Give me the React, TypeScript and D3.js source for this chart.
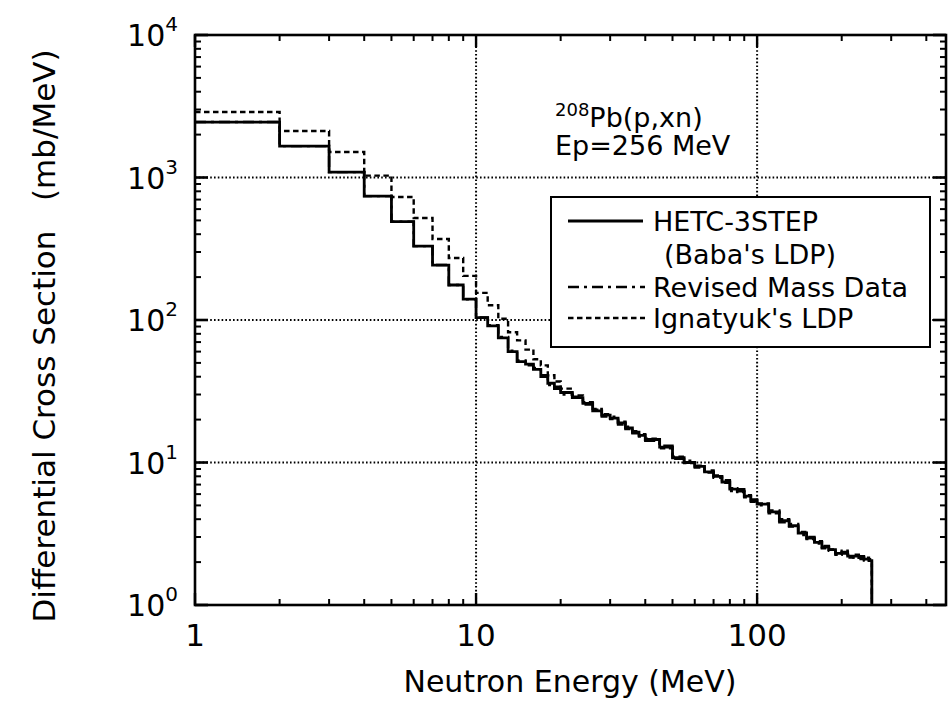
import React from 'react';
import * as d3 from 'd3';

// Energy bin edges (MeV) of the neutron spectra
const binEdges = [
  1, 2, 3, 4, 5, 6, 7, 8, 9, 10, 11, 12, 13, 14, 15, 16, 17, 18, 19, 20,
  22, 24, 26, 28, 30, 32, 34, 36, 38, 40, 45, 50, 55, 60, 65, 70, 75, 80, 85, 90, 95, 100,
  110, 120, 130, 140, 150, 160, 170, 180, 190, 200, 210, 220, 230, 240, 250, 256,
];

// Differential cross sections (mb/MeV), one value per bin
const hetcValues = [
  2450, 1660, 1090, 740, 490, 330, 243, 176, 140, 104, 91, 75, 60, 51, 49, 45, 40, 36, 33,
  31, 28.5, 26, 23, 21.5, 20.5, 19, 17.5, 16.3, 15.5, 14.5, 12.8, 10.8, 10.0, 9.4, 8.6, 8.0, 7.3, 6.5, 6.3, 5.8, 5.4,
  5.1, 4.5, 3.9, 3.6, 3.2, 2.95, 2.75, 2.55, 2.45, 2.3, 2.35, 2.2, 2.2, 2.15, 2.1, 2.05,
];
const revisedValues = [
  2450, 1660, 1090, 740, 490, 330, 243, 176, 140, 104, 92, 76, 61, 52, 48, 46, 41, 35, 34,
  30, 29, 25.5, 23.5, 21, 21, 18.5, 17.8, 16, 15.8, 14.2, 13.1, 10.6, 10.3, 9.2, 8.8, 7.8, 7.5, 6.3, 6.5, 5.7, 5.5,
  5.0, 4.6, 3.8, 3.7, 3.1, 3.0, 2.7, 2.6, 2.4, 2.35, 2.3, 2.25, 2.15, 2.2, 2.05, 2.1,
];
const ignatyukValues = [
  2880, 2120, 1510, 1030, 730, 520, 370, 272, 204, 155, 127, 102, 82, 72, 62, 53, 48, 41, 37,
  33, 29.5, 26.5, 23.8, 21.8, 20.2, 19.3, 17.2, 16.6, 15.2, 14.7, 12.6, 11.0, 9.9, 9.5, 8.5, 8.1, 7.2, 6.6, 6.2, 5.9, 5.3,
  5.15, 4.4, 4.0, 3.55, 3.25, 2.9, 2.8, 2.5, 2.45, 2.25, 2.4, 2.15, 2.25, 2.1, 2.15, 2.0,
];

const xTickLabels = ['1', '10', '100'];
const xTickValues = [1, 10, 100];
const xMinorTicks = [2, 3, 4, 5, 6, 7, 8, 9, 20, 30, 40, 50, 60, 70, 80, 90, 200, 300, 400];
const yExponents = [0, 1, 2, 3, 4];

const legendLabels = ['HETC-3STEP', "(Baba's LDP)", 'Revised Mass Data', "Ignatyuk's LDP"];

const FONT = '"DejaVu Sans", Verdana, sans-serif';
const DASH_REVISED = '11,5,3,5';
const DASH_IGNATYUK = '5.5,3.5';

export default function App() {
  const left = 195, right = 946, top = 35, bottom = 605;
  const x = d3.scaleLog().domain([1, 470]).range([left, right]);
  const y = d3.scaleLog().domain([1, 1e4]).range([bottom, top]);

  const yMinor: number[] = [];
  for (let e = 0; e < 4; e++) for (let m = 2; m <= 9; m++) yMinor.push(m * Math.pow(10, e));

  const line = d3
    .line<[number, number]>()
    .x((d) => x(d[0]))
    .y((d) => y(d[1]))
    .curve(d3.curveStepAfter);

  const stepPoints = (vals: number[]): [number, number][] => {
    const n = vals.length;
    const p: [number, number][] = vals.map((v, i) => [binEdges[i], v]);
    p.push([binEdges[n], vals[n - 1]]);
    p.push([binEdges[n], 1]);
    return p;
  };

  const gridStyle = { stroke: '#000', strokeWidth: 2, strokeDasharray: '1.6,2.2' };

  return (
    <svg
      width={949}
      height={701}
      style={{ position: 'absolute', left: 0, top: 0, background: '#fff' }}
      fontFamily={FONT}
    >
      <rect x={0} y={0} width={949} height={701} fill="#fff" />
      <defs>
        <clipPath id="plotArea">
          <rect x={left} y={top} width={right - left} height={bottom - top} />
        </clipPath>
      </defs>

      {/* dotted decade grid */}
      {[10, 100].map((v) => (
        <line key={'gx' + v} x1={x(v)} x2={x(v)} y1={top} y2={bottom} {...gridStyle} />
      ))}
      {[10, 100, 1000].map((v) => (
        <line key={'gy' + v} x1={left} x2={right} y1={y(v)} y2={y(v)} {...gridStyle} />
      ))}

      {/* spectra */}
      <g clipPath="url(#plotArea)" fill="none">
        <path d={line(stepPoints(ignatyukValues)) || ''} stroke="#000" strokeWidth={2.4} strokeDasharray={DASH_IGNATYUK} />
        <path d={line(stepPoints(revisedValues)) || ''} stroke="#000" strokeWidth={2.4} strokeDasharray={DASH_REVISED} />
        <path d={line(stepPoints(hetcValues)) || ''} stroke="#000" strokeWidth={2.8} />
      </g>

      {/* frame */}
      <rect x={left} y={top} width={right - left} height={bottom - top} fill="none" stroke="#000" strokeWidth={2.6} />

      {/* ticks */}
      {xMinorTicks.map((v) => (
        <g key={'xm' + v}>
          <line x1={x(v)} x2={x(v)} y1={bottom} y2={bottom - 6} stroke="#000" strokeWidth={2} />
          <line x1={x(v)} x2={x(v)} y1={top} y2={top + 6} stroke="#000" strokeWidth={2} />
        </g>
      ))}
      {xTickValues.map((v) => (
        <g key={'xM' + v}>
          <line x1={x(v)} x2={x(v)} y1={bottom} y2={bottom - 12} stroke="#000" strokeWidth={2.4} />
          <line x1={x(v)} x2={x(v)} y1={top} y2={top + 12} stroke="#000" strokeWidth={2.4} />
        </g>
      ))}
      {yMinor.map((v) => (
        <g key={'ym' + v}>
          <line x1={left} x2={left + 6} y1={y(v)} y2={y(v)} stroke="#000" strokeWidth={2} />
          <line x1={right} x2={right - 6} y1={y(v)} y2={y(v)} stroke="#000" strokeWidth={2} />
        </g>
      ))}
      {yExponents.map((e) => (
        <g key={'yM' + e}>
          <line x1={left} x2={left + 13} y1={y(Math.pow(10, e))} y2={y(Math.pow(10, e))} stroke="#000" strokeWidth={2.6} />
          <line x1={right} x2={right - 13} y1={y(Math.pow(10, e))} y2={y(Math.pow(10, e))} stroke="#000" strokeWidth={2.6} />
        </g>
      ))}

      {/* tick labels */}
      {xTickValues.map((v, i) => (
        <text key={'xl' + v} x={x(v)} y={646} fontSize={31} textAnchor="middle" fill="#000">
          {xTickLabels[i]}
        </text>
      ))}
      {yExponents.map((e) => (
        <text key={'yl' + e} x={178} y={y(Math.pow(10, e)) + 11} fontSize={30} textAnchor="end" fill="#000">
          10
          <tspan fontSize={20} dy={-15}>
            {e}
          </tspan>
        </text>
      ))}

      {/* axis titles */}
      <text x={570} y={692} fontSize={30} textAnchor="middle" fill="#000">
        Neutron Energy (MeV)
      </text>
      <text
        transform="translate(55,336) rotate(-90)"
        fontSize={31}
        textAnchor="middle"
        fill="#000"
        style={{ whiteSpace: 'pre' }}
      >
        {'Differential Cross Section   (mb/MeV)'}
      </text>

      {/* reaction annotation */}
      <text x={555} y={127} fontSize={27} fill="#000">
        <tspan fontSize={18} dy={-11}>208</tspan>
        <tspan dy={11}>Pb(p,xn)</tspan>
      </text>
      <text x={555} y={155} fontSize={27} fill="#000">
        Ep=256 MeV
      </text>

      {/* legend */}
      <rect x={551} y={197} width={379} height={150} fill="#fff" stroke="#000" strokeWidth={2} />
      <line x1={568} x2={643} y1={221} y2={221} stroke="#000" strokeWidth={2.8} />
      <line x1={568} x2={645} y1={287} y2={287} stroke="#000" strokeWidth={2.4} strokeDasharray={DASH_REVISED} />
      <line x1={568} x2={645} y1={318} y2={318} stroke="#000" strokeWidth={2.4} strokeDasharray={DASH_IGNATYUK} />
      <g fontSize={27} fill="#000">
        <text x={653} y={231}>{legendLabels[0]}</text>
        <text x={664} y={264}>{legendLabels[1]}</text>
        <text x={653} y={297}>{legendLabels[2]}</text>
        <text x={653} y={328}>{legendLabels[3]}</text>
      </g>
    </svg>
  );
}
